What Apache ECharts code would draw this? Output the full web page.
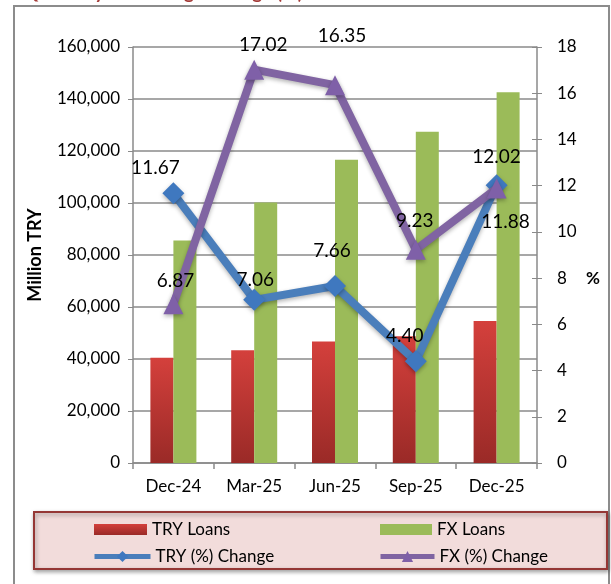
<!DOCTYPE html>
<html>
<head>
<meta charset="utf-8">
<script src="https://cdn.jsdelivr.net/npm/echarts@6/dist/echarts.min.js"></script>
<style>
html,body{margin:0;padding:0;background:#fff;}
#c{width:611px;height:584px;}
</style>
</head>
<body>
<div id="c"></div>
<script>
const categories = ['Dec-24', 'Mar-25', 'Jun-25', 'Sep-25', 'Dec-25'];
const tryLoans = [40500, 43350, 46700, 48750, 54600];
const fxLoans = [85600, 100150, 116600, 127400, 142550];
const tryChange = [11.67, 7.06, 7.66, 4.40, 12.02];
const fxChange = [6.87, 17.02, 16.35, 9.23, 11.88];
const seriesNames = ['TRY Loans', 'FX Loans', 'TRY (%) Change', 'FX (%) Change'];
const titleText = 'Quarterly Percentage Change (%)';
const leftAxisName = 'Million TRY';
const rightAxisName = '%';

// label offsets (styling only)
const tryLabelOffsets = [[-18, -25], [1, -20], [-3, -35], [-11, -25], [0, -28]];
const fxLabelOffsets = [[2, -23], [9, -25], [7, -49], [-1, -29], [9, 33]];

const FONT = 'Lato';
const chart = echarts.init(document.getElementById('c'), null, {renderer: 'canvas'});

function lineData(vals, offsets) {
  return vals.map((v, i) => ({
    value: v,
    label: {offset: offsets[i]}
  }));
}

const redGrad = new echarts.graphic.LinearGradient(0, 0, 0, 1, [
  {offset: 0, color: '#d4403c'},
  {offset: 1, color: '#9a2a27'}
]);

const axisGray = '#8a8a8a';
const legendText = {fontSize: 17, color: '#000', fontFamily: FONT};

chart.setOption({
  animation: false,
  textStyle: {fontFamily: FONT},
  graphic: [
    {type: 'rect', shape: {x: 14, y: 6, width: 595, height: 620},
     style: {fill: 'none', stroke: '#8c8c8c', lineWidth: 2}, z: -10},
    {type: 'text', x: 23, y: 2,
     style: {text: titleText, fill: '#a43b38', font: 'bold 19px ' + FONT, verticalAlign: 'bottom'}},
    {type: 'rect', shape: {x: 34, y: 512, width: 573, height: 57},
     style: {fill: '#f2dcdb', stroke: '#953735', lineWidth: 2,
             shadowColor: 'rgba(0,0,0,0.35)', shadowBlur: 4, shadowOffsetX: 1, shadowOffsetY: 2}, z: 0},
    {type: 'text', x: 586, y: 279,
     style: {text: rightAxisName, fill: '#000', font: 'bold 17px ' + FONT, verticalAlign: 'middle'}}
  ],
  legend: [
    {data: [{name: seriesNames[0], icon: 'rect'}], left: 94, top: 521, padding: 0, itemWidth: 53, itemHeight: 11,
     textStyle: legendText, z: 5},
    {data: [{name: seriesNames[1], icon: 'rect'}], left: 380, top: 521, padding: 0, itemWidth: 52, itemHeight: 11,
     textStyle: legendText, z: 5},
    {data: [{name: seriesNames[2]}], left: 92, top: 548, padding: 0, itemWidth: 56, itemHeight: 14,
     lineStyle: {width: 5}, textStyle: legendText, z: 5},
    {data: [{name: seriesNames[3]}], left: 378, top: 548, padding: 0, itemWidth: 54, itemHeight: 14,
     lineStyle: {width: 5}, textStyle: legendText, z: 5}
  ],
  grid: {left: 133, right: 74, top: 47, bottom: 121, containLabel: false},
  xAxis: {
    type: 'category',
    data: categories,
    axisLine: {lineStyle: {color: axisGray, width: 1.5}},
    axisTick: {show: true, alignWithLabel: false, length: 6, lineStyle: {color: axisGray, width: 1.5}},
    axisLabel: {color: '#000', fontSize: 17, fontFamily: FONT, margin: 15}
  },
  yAxis: [
    {
      type: 'value', min: 0, max: 160000, interval: 20000,
      name: leftAxisName, nameLocation: 'middle', nameGap: 89,
      nameTextStyle: {fontSize: 18, fontWeight: 'bold', color: '#000', fontFamily: FONT},
      axisLine: {show: true, lineStyle: {color: axisGray, width: 1.5}},
      axisTick: {show: true, length: 5, lineStyle: {color: axisGray}},
      axisLabel: {color: '#000', fontSize: 17, fontFamily: FONT, margin: 13,
                  formatter: v => v.toLocaleString('en-US')},
      splitLine: {show: true, lineStyle: {color: axisGray, width: 1.5}}
    },
    {
      type: 'value', min: 0, max: 18, interval: 2, position: 'right',
      axisLine: {show: true, lineStyle: {color: axisGray, width: 1.5}},
      axisTick: {show: true, length: 5, lineStyle: {color: axisGray}},
      axisLabel: {color: '#000', fontSize: 17, fontFamily: FONT, margin: 20},
      splitLine: {show: false}
    },
    {
      type: 'value', min: 0, max: 18, interval: 2, position: 'right',
      axisLine: {show: false},
      axisTick: {show: true, inside: true, length: 5, lineStyle: {color: axisGray}},
      axisLabel: {show: false},
      splitLine: {show: false}
    }
  ],
  series: [
    {
      name: seriesNames[0], type: 'bar', data: tryLoans, yAxisIndex: 0,
      barWidth: 23, barGap: '0%',
      itemStyle: {color: redGrad}
    },
    {
      name: seriesNames[1], type: 'bar', data: fxLoans, yAxisIndex: 0,
      barWidth: 23, barGap: '0%',
      itemStyle: {color: '#9bbb59'}
    },
    {
      name: seriesNames[2], type: 'line', yAxisIndex: 1,
      data: lineData(tryChange, tryLabelOffsets),
      symbol: 'diamond', symbolSize: 22,
      lineStyle: {color: '#4a7ebb', width: 8, shadowColor: 'rgba(0,0,0,0.3)', shadowBlur: 4, shadowOffsetY: 2},
      itemStyle: {color: '#3f78bf', shadowColor: 'rgba(0,0,0,0.3)', shadowBlur: 4, shadowOffsetY: 2},
      label: {show: true, position: 'inside', color: '#000', fontSize: 19, fontFamily: FONT,
              formatter: p => p.value.toFixed(2)},
      z: 3
    },
    {
      name: seriesNames[3], type: 'line', yAxisIndex: 1,
      data: lineData(fxChange, fxLabelOffsets),
      symbol: 'triangle', symbolSize: [20, 20],
      lineStyle: {color: '#8064a2', width: 8, shadowColor: 'rgba(0,0,0,0.3)', shadowBlur: 4, shadowOffsetY: 2},
      itemStyle: {color: '#7f60a8', shadowColor: 'rgba(0,0,0,0.3)', shadowBlur: 4, shadowOffsetY: 2},
      label: {show: true, position: 'inside', color: '#000', fontSize: 19, fontFamily: FONT,
              formatter: p => p.value.toFixed(2)},
      z: 4
    }
  ]
});
</script>
</body>
</html>
